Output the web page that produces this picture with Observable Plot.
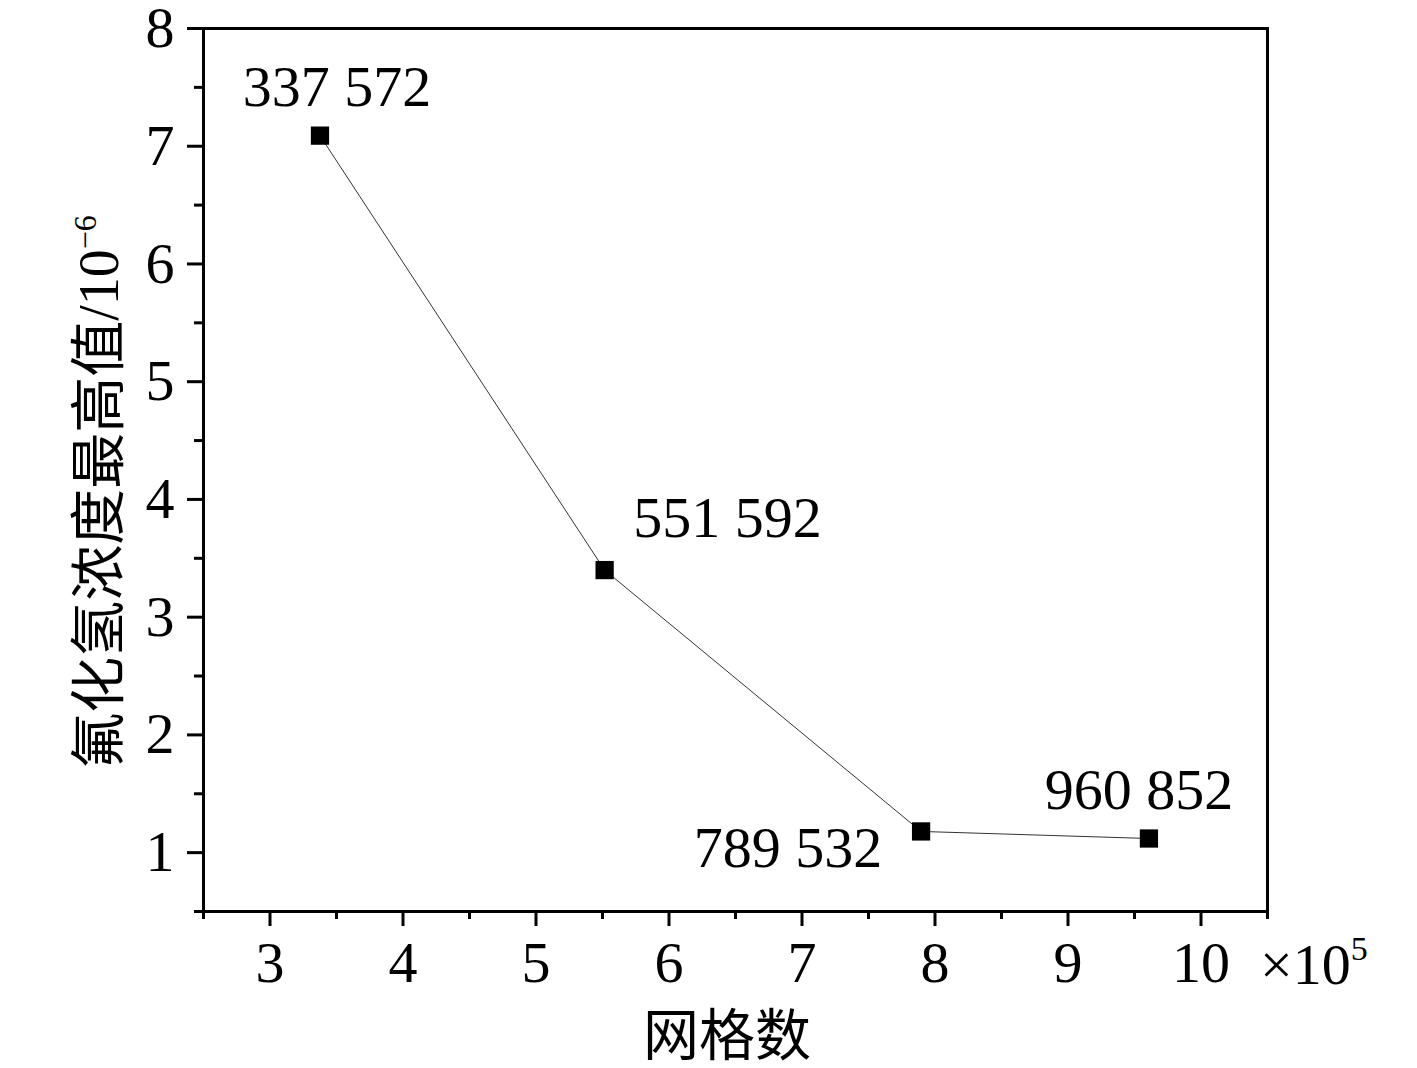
<!DOCTYPE html>
<html><head><meta charset="utf-8">
<script src="https://cdn.jsdelivr.net/npm/d3@7"></script>
<script src="https://cdn.jsdelivr.net/npm/@observablehq/plot@0.6"></script>
<style>
body{margin:0;background:#fff}
svg{font-family:"Liberation Serif","Noto Sans CJK SC",serif}
</style>
</head><body><div id="chart"></div>
<script>
const gridCounts = [337572, 551592, 789532, 960852];
const peakHF = [7.09, 3.40, 1.18, 1.12];
const pointLabels = ["337 572", "551 592", "789 532", "960 852"];
const xTicks = [3, 4, 5, 6, 7, 8, 9, 10];
const yTicks = [1, 2, 3, 4, 5, 6, 7, 8];
const xMinorTicks = [2.5, 3.5, 4.5, 5.5, 6.5, 7.5, 8.5, 9.5, 10.5];
const yMinorTicks = [0.5, 1.5, 2.5, 3.5, 4.5, 5.5, 6.5, 7.5];
const xTitle = "网格数";
const yTitle = "氟化氢浓度最高值/10";
const yTitleExp = "−6";
const xUnit = "×10";
const xUnitExp = "5";

const data = gridCounts.map((g, i) => ({x: g / 1e5, y: peakHF[i], label: pointLabels[i]}));
const labelOffsets = [[17, -48], [123, -52], [-133, 17], [-10, -48]];

const W = 1417, H = 1068;
const FS = 58;
const plot = Plot.plot({
  width: W, height: H,
  marginLeft: 203, marginRight: 150, marginTop: 28, marginBottom: 157,
  style: {fontSize: FS + "px", fontFamily: "'Liberation Serif','Noto Sans CJK SC',serif", color: "#000", background: "#fff"},
  x: {domain: [2.5, 10.5]},
  y: {domain: [0.5, 8]},
  marks: [
    Plot.axisX({ticks: xTicks, tickSize: 15, tickPadding: 14, strokeWidth: 3, label: null, fontSize: FS, tickFormat: d => String(d)}),
    Plot.axisX({ticks: xMinorTicks, tickSize: 8, strokeWidth: 3, text: null, label: null}),
    Plot.axisY({ticks: yTicks, tickSize: 16, tickPadding: 13, strokeWidth: 3, label: null, fontSize: FS, tickFormat: d => String(d)}),
    Plot.axisY({ticks: yMinorTicks, tickSize: 9, strokeWidth: 3, text: null, label: null}),
    Plot.frame({stroke: "#000", strokeWidth: 3}),
    Plot.line(data, {x: "x", y: "y", stroke: "#333", strokeWidth: 1}),
    Plot.dot(data, {x: "x", y: "y", symbol: "square", r: 10.3, fill: "#000", stroke: "none"}),
    ...data.map((d, i) => Plot.text([d], {x: "x", y: "y", text: "label", dx: labelOffsets[i][0], dy: labelOffsets[i][1], fontSize: FS, fill: "#000"}))
  ]
});
document.getElementById("chart").appendChild(plot);

const svg = d3.select(plot);
const fam = "'Liberation Serif','Noto Sans CJK SC',serif";
// y title
const yt = svg.append("text")
  .attr("transform", "translate(118,492) rotate(-90)")
  .attr("text-anchor", "middle")
  .attr("font-size", 56).attr("font-family", fam).attr("fill", "#000");
yt.append("tspan").text(yTitle);
yt.append("tspan").attr("dy", -22).attr("font-size", 32).text(yTitleExp);
// x title
svg.append("text")
  .attr("x", 727).attr("y", 1055)
  .attr("text-anchor", "middle")
  .attr("font-size", 56).attr("font-family", fam).attr("fill", "#000")
  .text(xTitle);
// x unit
const xu = svg.append("text")
  .attr("x", 1260).attr("y", 984)
  .attr("text-anchor", "start")
  .attr("font-size", FS).attr("font-family", fam).attr("fill", "#000");
xu.append("tspan").text(xUnit);
xu.append("tspan").attr("dy", -24).attr("font-size", 34).text(xUnitExp);
</script>
</body></html>
